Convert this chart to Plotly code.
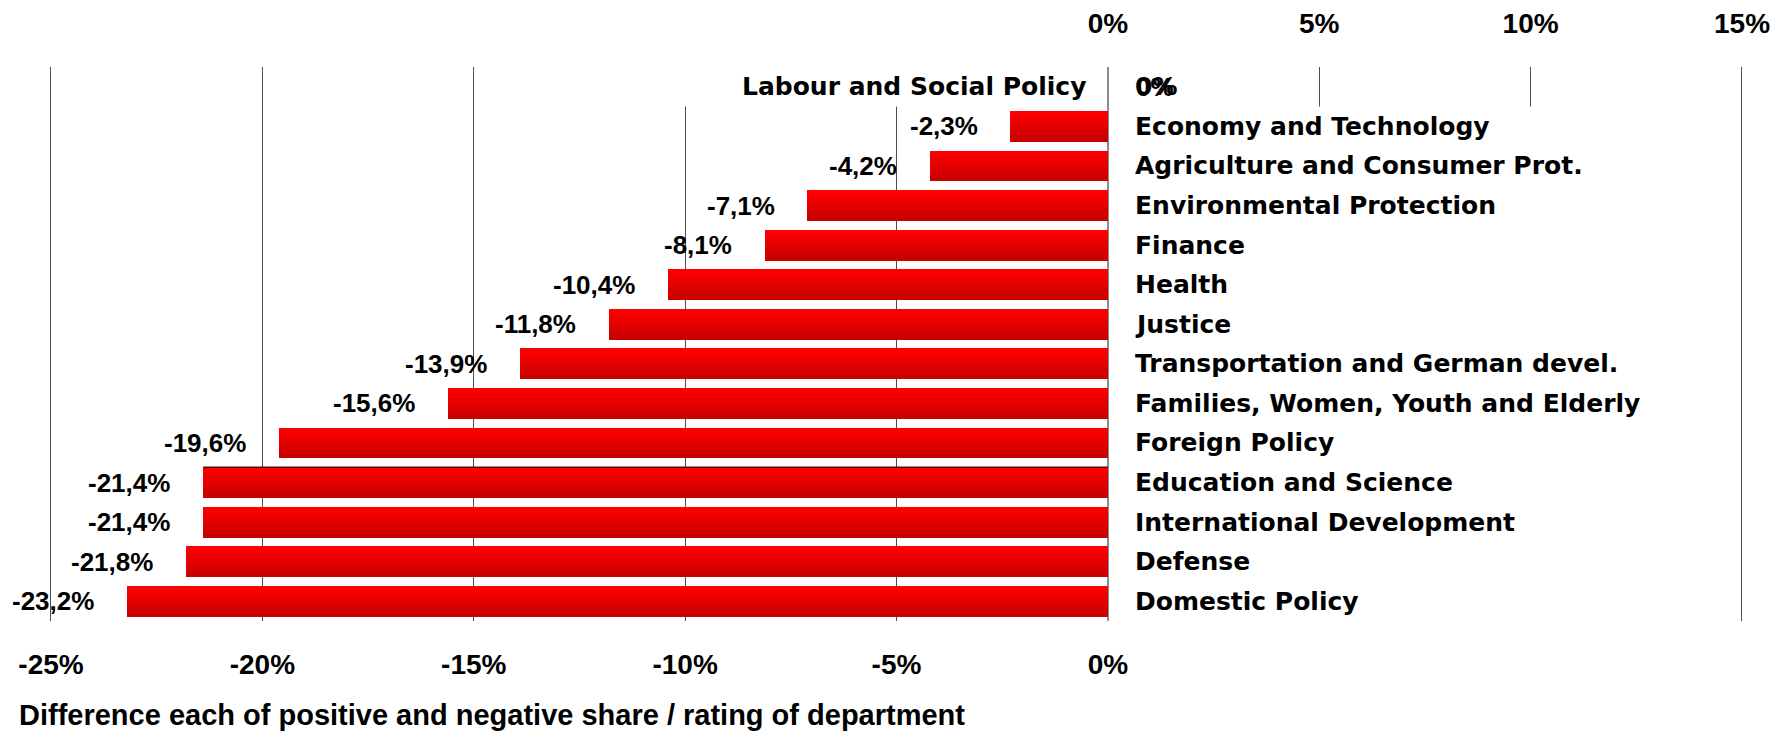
import plotly.graph_objects as go

# Ratings per federal department: share of positive minus share of negative ratings (%)
departments = [
    "Labour and Social Policy",
    "Economy and Technology",
    "Agriculture and Consumer Prot.",
    "Environmental Protection",
    "Finance",
    "Health",
    "Justice",
    "Transportation and German devel.",
    "Families, Women, Youth and Elderly",
    "Foreign Policy",
    "Education and Science",
    "International Development",
    "Defense",
    "Domestic Policy",
]
difference = [0.0, -2.3, -4.2, -7.1, -8.1, -10.4, -11.8, -13.9, -15.6, -19.6, -21.4, -21.4, -21.8, -23.2]

bottom_ticks = [-25, -20, -15, -10, -5, 0]
bottom_tick_text = ["-25%", "-20%", "-15%", "-10%", "-5%", "0%"]
top_ticks = [0, 5, 10, 15]
top_tick_text = ["0%", "5%", "10%", "15%"]
x_title = "Difference each of positive and negative share / rating of department"

W, H = 1785, 732
TICK_FONT = dict(family="Liberation Sans, Arial, sans-serif", size=28, color="#000000", weight="bold")
TITLE_FONT = dict(family="Liberation Sans, Arial, sans-serif", size=29, color="#000000", weight="bold")
CAT_FONT = dict(family="DejaVu Sans, sans-serif", size=25, color="#000000", weight="bold")
VAL_FONT = dict(family="Liberation Sans, Arial, sans-serif", size=26, color="#000000", weight="bold")

rows = list(range(len(departments)))
BAR_W = 0.78

fig = go.Figure()

# Vertical red gradient: stacked overlays anchored at the top edge, brightening upward
levels = 12
for k in range(levels):
    t = k / (levels - 1)
    r = int(round(200 + 55 * t))
    fig.add_trace(go.Bar(
        x=difference,
        y=rows,
        orientation="h",
        width=BAR_W * (levels - k) / levels,
        offset=-BAR_W / 2,
        marker=dict(color=f"rgb({r},0,0)", line=dict(width=0)),
        showlegend=False,
        hoverinfo="skip",
        xaxis="x",
        yaxis="y",
    ))

# Empty trace carrying the top percentage axis
fig.add_trace(go.Scatter(x=[None], y=[None], xaxis="x2", yaxis="y",
                         mode="markers", showlegend=False, hoverinfo="skip"))

annotations = []
for i, (name, v) in enumerate(zip(departments, difference)):
    label = f"{v:.1f}".replace(".", ",") + "%"
    if v == 0:
        label = "0%"
        annotations.append(dict(x=0, y=i, xref="x", yref="y", text=name, showarrow=False,
                                xanchor="right", xshift=-20, font=CAT_FONT))
        annotations.append(dict(x=0, y=i, xref="x", yref="y", text=label, showarrow=False,
                                xanchor="left", xshift=25, font=CAT_FONT))
        annotations.append(dict(x=0, y=i, xref="x", yref="y", text=label, showarrow=False,
                                xanchor="left", xshift=26, font=VAL_FONT))
    else:
        annotations.append(dict(x=0, y=i, xref="x", yref="y", text=name, showarrow=False,
                                xanchor="left", xshift=25, font=CAT_FONT))
        annotations.append(dict(x=v, y=i, xref="x", yref="y", text=label, showarrow=False,
                                xanchor="right", xshift=-31, font=VAL_FONT))

annotations.append(dict(x=17 / W, y=1 - 715 / H, xref="paper", yref="paper", text=x_title,
                        showarrow=False, xanchor="left", yanchor="middle", font=TITLE_FONT))

n = len(departments)
shapes = [
    # label area to the right of the zero line hides the grid
    dict(type="rect", xref="x", yref="y", x0=0.3, x1=14.6, y0=0.5, y1=n - 0.5,
         fillcolor="white", line=dict(width=0), layer="between"),
    # label area of the first row on the negative side
    dict(type="rect", xref="x", yref="y", x0=-11.6, x1=-0.3, y0=-0.5, y1=0.5,
         fillcolor="white", line=dict(width=0), layer="between"),
    # thin rule along the top of the Education and Science bar
    dict(type="line", xref="x", yref="y", x0=difference[10], x1=0,
         y0=10 - BAR_W / 2, y1=10 - BAR_W / 2, line=dict(color="#000000", width=1)),
]

all_ticks = list(range(-25, 16, 5))
all_text = [bottom_tick_text[bottom_ticks.index(t)] if t in bottom_ticks else "" for t in all_ticks]

# small padding so the outermost grid lines are drawn inside the plot area
pad = 0.04
px_per_unit = (1742 - 51) / 40
x_domain = [(51 - pad * px_per_unit) / W, (1742 + pad * px_per_unit) / W]
x_range = [-25 - pad, 15 + pad]

fig.update_layout(
    width=W, height=H,
    margin=dict(l=0, r=0, t=0, b=0, autoexpand=False),
    paper_bgcolor="white", plot_bgcolor="white",
    barmode="overlay",
    bargap=0,
    xaxis=dict(
        domain=x_domain, range=x_range, tickvals=all_ticks, ticktext=all_text,
        showgrid=True, gridcolor="#4d4d4d", gridwidth=1,
        zeroline=True, zerolinecolor="#8c8c8c", zerolinewidth=1.5,
        showline=False, ticks="", tickfont=TICK_FONT, ticklabelstandoff=24,
        automargin=False, fixedrange=True,
    ),
    xaxis2=dict(
        domain=x_domain, range=x_range, overlaying="x", side="top", anchor="y",
        tickvals=top_ticks, ticktext=top_tick_text, showgrid=False, zeroline=False,
        showline=False, ticks="", tickfont=TICK_FONT, ticklabelstandoff=27,
        automargin=False, fixedrange=True,
    ),
    yaxis=dict(
        domain=[1 - 621 / H, 1 - 67 / H], range=[n - 0.5, -0.5],
        showticklabels=False, showgrid=False, zeroline=False, showline=False,
        automargin=False, fixedrange=True,
    ),
    annotations=annotations,
    shapes=shapes,
    showlegend=False,
)

fig.write_html("out.html")
